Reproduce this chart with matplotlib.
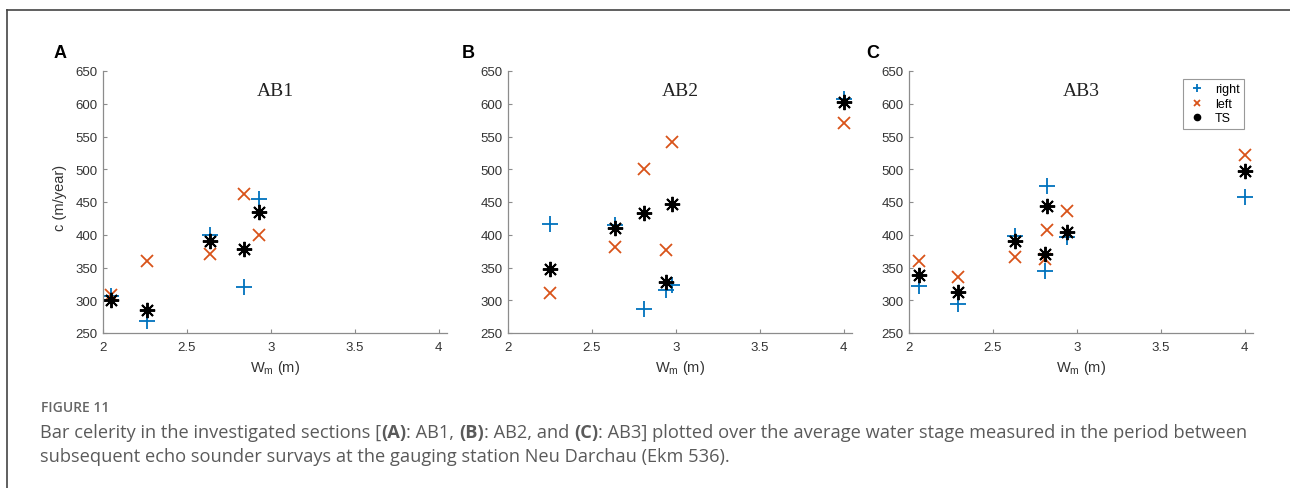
import matplotlib
matplotlib.use("Agg")
from matplotlib import pyplot as plt
from matplotlib.lines import Line2D

# celerity c (m/year) against mean water stage W_m (m)
a_w     = [2.05, 2.26, 2.64, 2.84, 2.93]
a_right = [307, 269, 400, 320, 454]
a_left  = [308, 360, 370, 462, 400]
a_ts    = [300, 285, 391, 379, 434]

b_w     = [2.25, 2.64, 2.81, 2.94, 2.98, 4.0]
b_right = [417, 415, 287, 315, 323, 608]
b_left  = [311, 382, 501, 377, 541, 571]
b_ts    = [347, 410, 433, 328, 447, 602]

c_w     = [2.06, 2.29, 2.63, 2.81, 2.82, 2.94, 4.0]
c_right = [322, 294, 398, 344, 475, 397, 457]
c_left  = [360, 335, 366, 363, 407, 437, 522]
c_ts    = [339, 312, 391, 370, 444, 404, 497]

panels = [("A", "AB1", a_w, a_right, a_left, a_ts),
          ("B", "AB2", b_w, b_right, b_left, b_ts),
          ("C", "AB3", c_w, c_right, c_left, c_ts)]

W, H = 1290, 489
BLUE = "#0072BD"
ORANGE = "#D95319"
AXC = "#8c8c8c"
TXT = "#333333"
ASTER = (8, 2, 0)

fig = plt.figure(figsize=(W / 100, H / 100), dpi=100)

def fx(px):
    return px / W

def fy(py):
    return 1 - py / H

ax_left = [103, 508, 909]   # pixel x of each y axis
ax_w, ax_top, ax_bot = 344, 72, 334

for i, (letter, name, w, right, left, ts) in enumerate(panels):
    x0 = ax_left[i]
    ax = fig.add_axes([fx(x0), fy(ax_bot), ax_w / W, (ax_bot - ax_top) / H])
    ax.plot(w, right, ls="none", marker="+", ms=11, mew=1.3, color=BLUE, label="right")
    ax.plot(w, left, ls="none", marker="x", ms=8, mew=1.3, color=ORANGE, label="left")
    ax.plot(w, ts, ls="none", marker=ASTER, ms=11, mew=1.4, color="black", label="TS")
    ax.set_xlim(2, 4.05)
    ax.set_ylim(250, 650)
    ax.set_xticks([2, 2.5, 3, 3.5, 4])
    ax.set_xticklabels(["2", "2.5", "3", "3.5", "4"])
    ax.set_yticks(range(250, 651, 50))
    for s in ["top", "right"]:
        ax.spines[s].set_visible(False)
    for s in ["left", "bottom"]:
        ax.spines[s].set_color(AXC)
        ax.spines[s].set_linewidth(0.9)
    ax.tick_params(direction="in", length=3, width=0.8, color=AXC,
                   labelsize=9.5, labelcolor=TXT, pad=4)
    ax.tick_params(axis="x", pad=6)
    for lab in ax.get_xticklabels() + ax.get_yticklabels():
        lab.set_family("Liberation Sans")
    ax.text(0.5, 0.927, name, transform=ax.transAxes, ha="center", va="center",
            family="Liberation Serif", fontsize=14, color="#222222")
    ax.text(0.5, -0.13, r"W$_\mathregular{m}$ (m)", transform=ax.transAxes,
            ha="center", va="center", family="Liberation Sans", fontsize=10.5,
            color=TXT)
    if i == 0:
        ax.text(-0.125, 0.52, "c (m/year)", transform=ax.transAxes, rotation=90,
                ha="center", va="center", family="Liberation Sans", fontsize=10.5,
                color=TXT)
    fig.text(fx([60, 468, 873][i]), fy(54), letter, ha="center", va="center",
             family="Liberation Sans", weight="bold", fontsize=13, color="black")
    if i == 2:
        handles = [Line2D([], [], ls="none", marker="+", ms=5.5, mew=1.3, color=BLUE),
                   Line2D([], [], ls="none", marker="x", ms=4, mew=1.3, color=ORANGE),
                   Line2D([], [], ls="none", marker="o", ms=4.5, color="black")]
        leg = ax.legend(handles, ["right", "left", "TS"], loc="upper right",
                        bbox_to_anchor=(0.974, 0.969), borderaxespad=0,
                        fancybox=False, edgecolor="#999999", framealpha=1,
                        handlelength=1.6, handletextpad=0.6, borderpad=0.35,
                        labelspacing=0.2,
                        prop={"family": "Liberation Sans", "size": 9})
        leg.get_frame().set_linewidth(0.8)

# page frame
fig.add_artist(Line2D([fx(7), 1], [fy(11), fy(11)], color="#444444", lw=1.2))
fig.add_artist(Line2D([fx(7), fx(7)], [fy(11), 0], color="#444444", lw=1.2))

# caption
cap_c = "#5a5a5a"
cap_fs = 13.15
fig.text(fx(41), fy(408), "FIGURE 11", ha="left", va="center", family="Open Sans",
         weight="semibold", fontsize=10, color="#666666")

pieces = [("Bar celerity in the investigated sections [", "normal"), ("(A)", "bold"),
          (": AB1, ", "normal"), ("(B)", "bold"), (": AB2, and ", "normal"),
          ("(C)", "bold"),
          (": AB3] plotted over the average water stage measured in the period between",
           "normal")]
cap_texts = [fig.text(fx(40), fy(438), txt, ha="left", va="baseline",
                      family="Open Sans", fontsize=cap_fs, color=cap_c, weight=wt)
             for txt, wt in pieces]

# set the caption pieces one after another on the line
fig.canvas.draw()
r = fig.canvas.get_renderer()
xpos = cap_texts[0].get_window_extent(r).x1
for t in cap_texts[1:]:
    t.set_position((xpos / W, fy(438)))
    xpos = t.get_window_extent(r).x1

fig.text(fx(40), fy(462),
         "subsequent echo sounder survays at the gauging station Neu Darchau (Ekm 536).",
         ha="left", va="baseline", family="Open Sans", fontsize=cap_fs, color=cap_c)

fig.savefig("out.png", dpi=100)
